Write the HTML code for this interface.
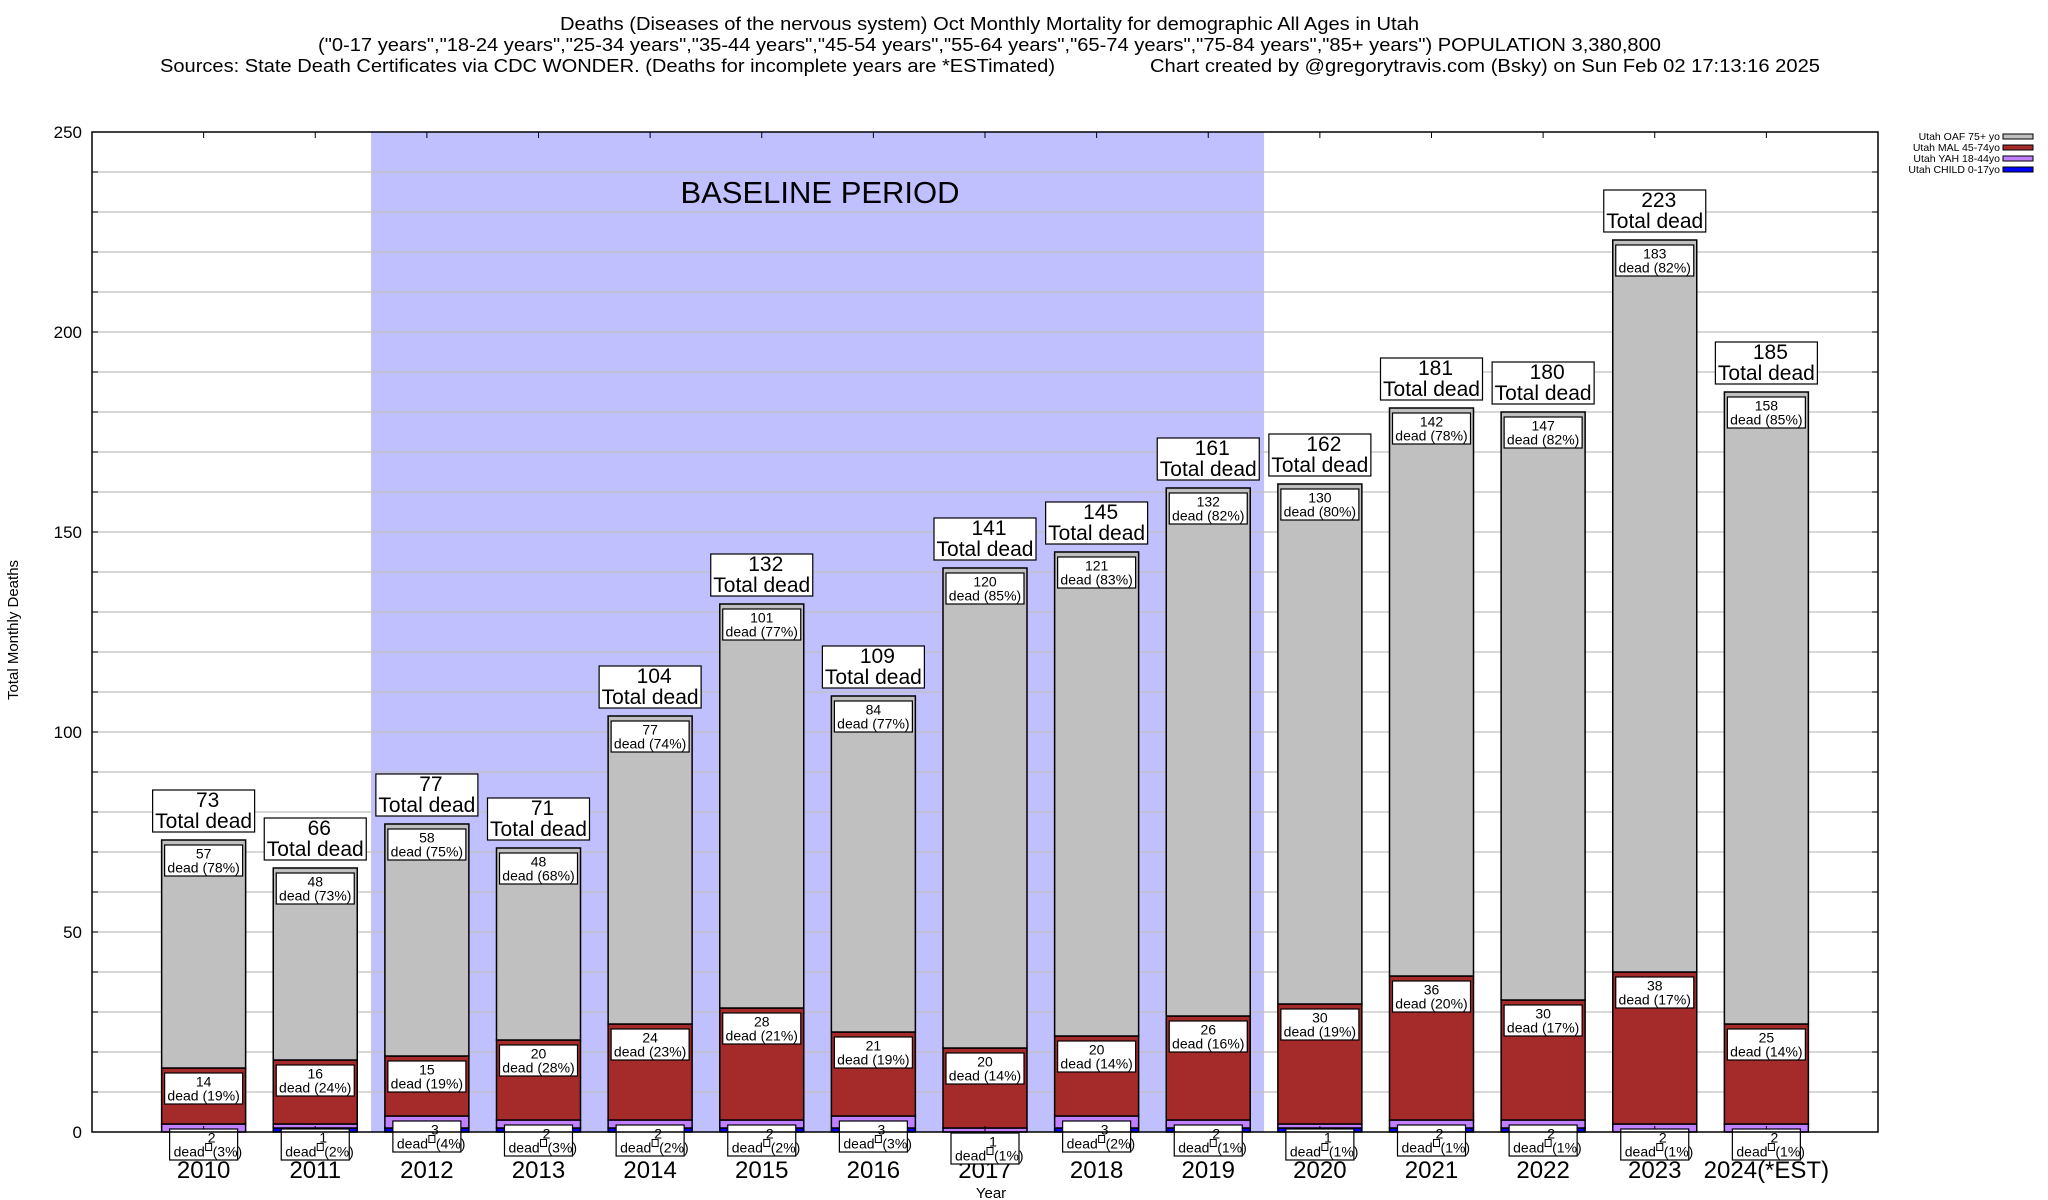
<!DOCTYPE html>
<html><head><meta charset="utf-8"><style>
html,body{margin:0;padding:0;background:#fff;}
svg{display:block;font-family:"Liberation Sans",Arial,sans-serif;}
</style></head><body>
<svg id="chart" width="2048" height="1200" viewBox="0 0 2048 1200" xmlns="http://www.w3.org/2000/svg">
<g font-size="18" fill="#000">
<text x="560" y="30" textLength="859" lengthAdjust="spacingAndGlyphs">Deaths (Diseases of the nervous system) Oct Monthly Mortality for demographic All Ages in Utah</text>
<text x="318" y="51" textLength="1343" lengthAdjust="spacingAndGlyphs">("0-17 years","18-24 years","25-34 years","35-44 years","45-54 years","55-64 years","65-74 years","75-84 years","85+ years") POPULATION 3,380,800</text>
<text x="160" y="72" textLength="895" lengthAdjust="spacingAndGlyphs">Sources: State Death Certificates via CDC WONDER. (Deaths for incomplete years are *ESTimated)</text>
<text x="1150" y="72" textLength="670" lengthAdjust="spacingAndGlyphs">Chart created by @gregorytravis.com (Bsky) on Sun Feb 02 17:13:16 2025</text>
</g>
<g id="plot"></g>
<g font-size="10.5" text-anchor="end">
<g><text x="2000" y="140">Utah OAF 75+ yo</text><rect x="2003" y="134" width="30" height="5" fill="#c0c0c0" stroke="#000"/></g>
<g><text x="2000" y="151">Utah MAL 45-74yo</text><rect x="2003" y="145" width="30" height="5" fill="#a52a2a" stroke="#000"/></g>
<g><text x="2000" y="162">Utah YAH 18-44yo</text><rect x="2003" y="156" width="30" height="5" fill="#c080ff" stroke="#000"/></g>
<g><text x="2000" y="173">Utah CHILD 0-17yo</text><rect x="2003" y="167" width="30" height="5" fill="#0000ff" stroke="#000"/></g>
</g>
<text x="18" y="630" font-size="15" text-anchor="middle" transform="rotate(-90 18 630)">Total Monthly Deaths</text>
<text x="991" y="1198" font-size="15" text-anchor="middle">Year</text>
</svg>
<script>
const years = ["2010","2011","2012","2013","2014","2015","2016","2017","2018","2019","2020","2021","2022","2023","2024(*EST)"];
const child = [0,1,1,1,1,1,1,0,1,1,1,1,1,0,0];
const yah = [2,1,3,2,2,2,3,1,3,2,1,2,2,2,2];
const mal = [14,16,15,20,24,28,21,20,20,26,30,36,30,38,25];
const oaf = [57,48,58,48,77,101,84,120,121,132,130,142,147,183,158];
const yTicks = [0,50,100,150,200,250];
const baselineStart = 2012, baselineEnd = 2019;

const NS = "http://www.w3.org/2000/svg";
const L = 92, R = 1878, T = 132, B = 1132, YMAX = 250;
const slot = (R - L) / (years.length + 1);
const xc = i => L + (i + 1) * slot;
const ys = v => B - v / YMAX * (B - T);
const BW = 84;
const plot = document.getElementById('plot');
function mk(tag, attrs, parent, text) {
  const e = document.createElementNS(NS, tag);
  for (const k in attrs) e.setAttribute(k, attrs[k]);
  if (text !== undefined) e.textContent = text;
  (parent || plot).appendChild(e);
  return e;
}
// baseline shading
const bi0 = years.indexOf(String(baselineStart)), bi1 = years.indexOf(String(baselineEnd));
const shade = mk('rect', {x: xc(bi0) - slot/2, y: T, width: (bi1 - bi0 + 1) * slot, height: B - T, fill: '#c0c0ff'});


// gridlines
for (let v = 10; v < YMAX; v += 10) {
  const g = mk('line', {x1: L, x2: R, y1: ys(v), y2: ys(v), stroke: '#c0c0c0', 'stroke-width': 1.2});
  
  
  mk('line', {x1: L, x2: L + 6, y1: ys(v), y2: ys(v), stroke: '#000'});
  mk('line', {x1: R - 6, x2: R, y1: ys(v), y2: ys(v), stroke: '#000'});
}
const bl = mk('text', {x: 820, y: 203, 'font-size': 31, 'text-anchor': 'middle'}, plot, 'BASELINE PERIOD');


// y tick labels
yTicks.forEach(v => {
  const t = mk('text', {x: 82, y: ys(v) + 6, 'font-size': 17, 'text-anchor': 'end'}, plot, String(v));
  
  
});
const colors = ['#0000ff', '#c080ff', '#a52a2a', '#c0c0c0'];
const segNames = ['child', 'yah', 'mal', 'oaf'];
const labels = [];
years.forEach((yr, i) => {
  const vals = [child[i], yah[i], mal[i], oaf[i]];
  const total = vals.reduce((a, b) => a + b, 0);
  const x = xc(i);
  const g = mk('g', {});
  
  
  let cum = 0;
  const tops = [];
  vals.forEach((v, s) => {
    const y0 = ys(cum), y1 = ys(cum + v);
    cum += v;
    tops.push(y1);
    if (v > 0) {
      const r = mk('rect', {x: x - BW/2, y: y1, width: BW, height: y0 - y1, fill: colors[s], stroke: '#000', 'stroke-width': 1.5}, g);
      
      
    }
  });
  // segment labels for yah, mal, oaf
  [1, 2, 3].forEach(s => {
    const v = vals[s];
    const pct = Math.round(v / total * 100);
    const cy = tops[s] + 20.5;
    labels.push({x, cy, v, pct, s, yr});
  });
  // total label
  const ty = ys(total) - 8;
  const tg = mk('g', {});
  
  
  mk('rect', {x: x - 51, y: ty - 42, width: 102, height: 42, fill: '#fff', stroke: '#000', 'stroke-width': 1.2}, tg);
  mk('text', {x: x + 4, y: ty - 25, 'font-size': 21, 'text-anchor': 'middle'}, tg, String(total));
  mk('text', {x: x, y: ty - 4, 'font-size': 21, 'text-anchor': 'middle'}, tg, 'Total dead');
  // year label
  const yl = mk('text', {x: x, y: 1178, 'font-size': 24, 'text-anchor': 'middle'}, plot, yr);
  
  
  mk('line', {x1: x, x2: x, y1: T, y2: T + 6, stroke: '#000'});
  mk('line', {x1: x, x2: x, y1: B, y2: B - 6, stroke: '#000'});
});
labels.forEach(l => {
  const g = mk('g', {});
  
  
  const w = l.pct >= 10 ? 78 : 68;
  mk('rect', {x: l.x - w/2, y: l.cy - 15.5, width: w, height: 31, fill: '#fff', stroke: '#000', 'stroke-width': 1.2}, g);
  if (l.s === 1) {
    mk('text', {x: l.x + 8, y: l.cy - 2, 'font-size': 14, 'text-anchor': 'middle'}, g, String(l.v));
    mk('text', {x: l.x - 30, y: l.cy + 12, 'font-size': 14}, g, 'dead');
    mk('rect', {x: l.x + 2, y: l.cy - 1, width: 6, height: 7, fill: 'none', stroke: '#000', 'stroke-width': 1}, g);
    mk('text', {x: l.x + 9, y: l.cy + 12, 'font-size': 14}, g, '(' + l.pct + '%)');
  } else {
    mk('text', {x: l.x, y: l.cy - 2, 'font-size': 14, 'text-anchor': 'middle'}, g, String(l.v));
    mk('text', {x: l.x, y: l.cy + 12, 'font-size': 14, 'text-anchor': 'middle'}, g, 'dead (' + l.pct + '%)');
  }
});
const frame = mk('rect', {x: L, y: T, width: R - L, height: B - T, fill: 'none', stroke: '#000', 'stroke-width': 1.5});


</script>
</body></html>
